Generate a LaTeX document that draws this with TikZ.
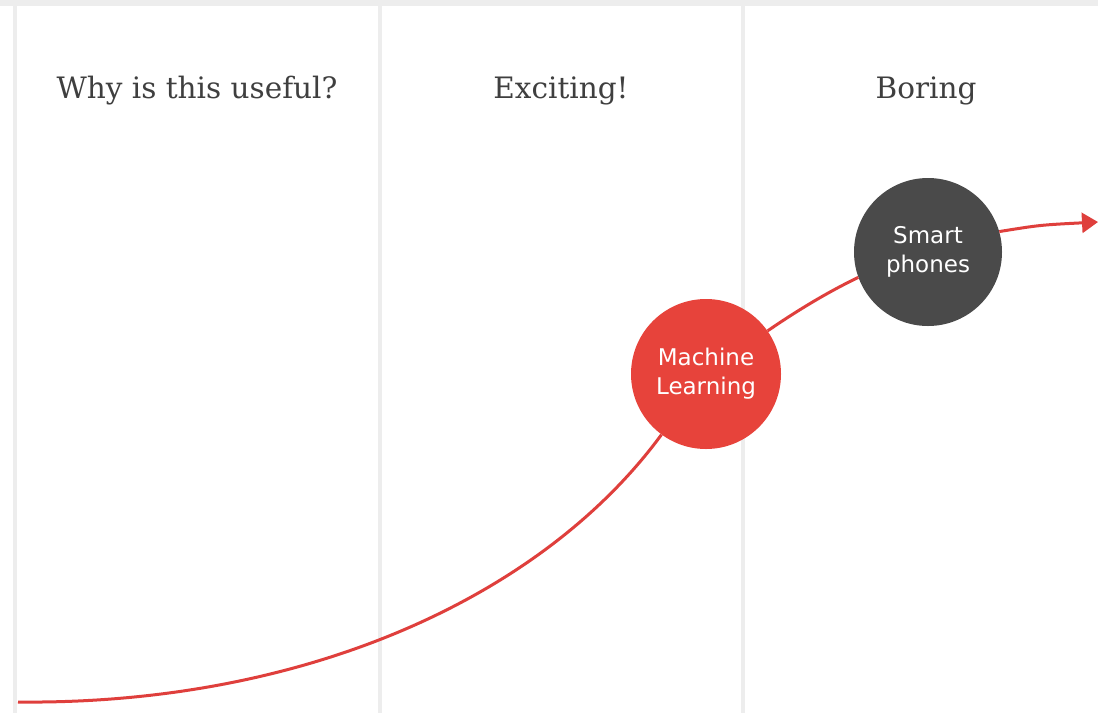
\documentclass[tikz,border=0pt]{standalone}
\usepackage{fontspec}
\setmainfont{DejaVu Serif}
\setsansfont{DejaVu Sans}
\usetikzlibrary{arrows.meta}
\definecolor{mlred}{HTML}{E7433B}
\definecolor{linered}{HTML}{DF3F3C}
\definecolor{spgray}{HTML}{4A4A4A}
\definecolor{sepgray}{HTML}{EDEDED}
\definecolor{titlegray}{HTML}{3F3F3F}
\tikzset{
  title/.style={font=\fontsize{29.5}{33}\selectfont, text=titlegray, anchor=center},
  bubble/.style={circle, minimum size=150pt, inner sep=0pt, align=center, text=white,
    font=\sffamily\fontsize{23}{29}\selectfont},
  curve/.style={draw=linered, line width=3pt},
  sep/.style={draw=sepgray, line width=4pt}
}
\begin{document}
\begin{tikzpicture}[x=1pt,y=-1pt]
\useasboundingbox (0,0) rectangle (1098,713);
\fill[white] (0,0) rectangle (1098,713);
\fill[sepgray] (0,0) rectangle (1098,6);
\draw[sep] (15,6) -- (15,713);
\draw[sep] (380,6) -- (380,713);
\draw[sep] (743,6) -- (743,713);
\node[title] (t1) at (197,91) {Why is this useful?};
\node[title] (t2) at (561,91) {Exciting!};
\node[title] (t3) at (926,91) {Boring};
\coordinate (start) at (18,702);
\coordinate (end) at (1098,222);
\node[bubble, fill=mlred] (ml) at (706,374) {Machine\\Learning};
\node[bubble, fill=spgray, minimum size=148pt] (sp) at (928,252) {Smart\\phones};
\draw[curve] (start) .. controls (300,705) and (540,600) .. (ml);
\draw[curve] (ml.35) .. controls (798,310) and (828,292) .. (sp.200);
\draw[curve, -{Triangle[length=16pt,width=20pt]}] (sp.16) .. controls (1040,225) .. (end);
\end{tikzpicture}
\end{document}
